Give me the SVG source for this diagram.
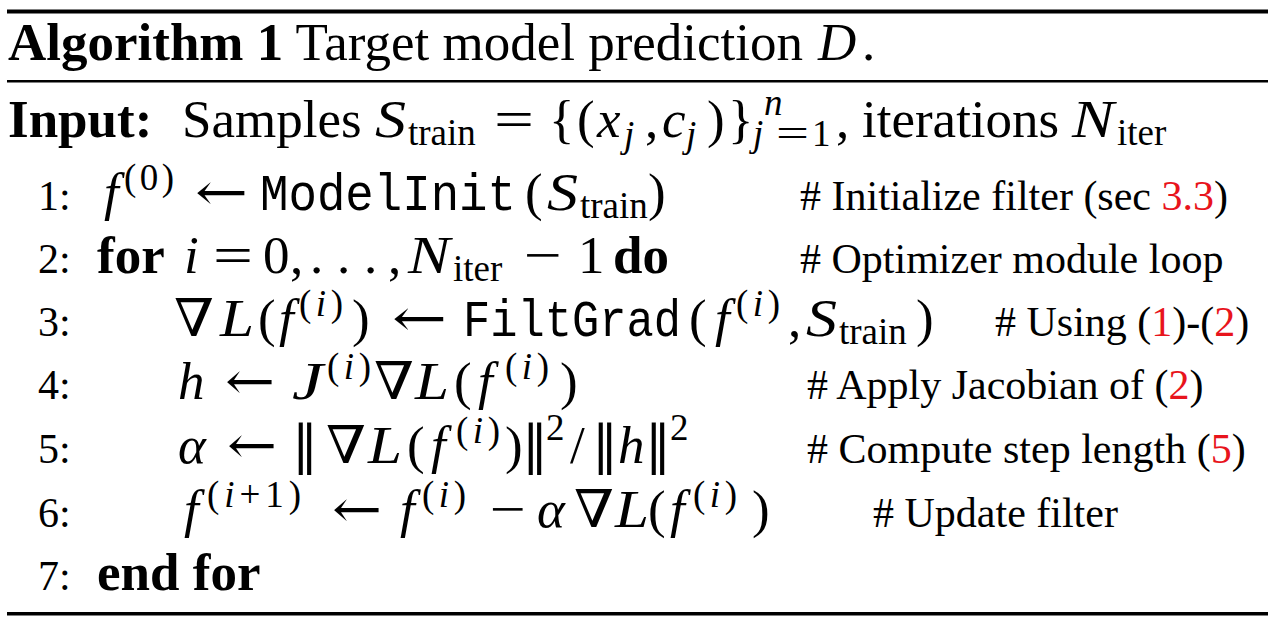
<svg xmlns="http://www.w3.org/2000/svg" width="1277" height="622" viewBox="0 0 1277 622">
<style>
text{font-family:"Liberation Serif","DejaVu Serif",serif;fill:#000;font-size:53px}
.b{font-weight:bold}
.i{font-style:italic}
.sm{font-size:42px}
.sc{font-size:37px}
.tt{font-family:"Liberation Mono","DejaVu Sans Mono",monospace;font-size:52px}
.sy{font-family:"DejaVu Serif","Liberation Serif",serif;font-size:52px}
.red{fill:#e8141c}
.rule{fill:#000}
</style>
<rect width="1277" height="622" fill="#fff"/>
<g id="rules">
<rect class="rule" x="7" y="9.5" width="1261" height="4"/>
<rect class="rule" x="7" y="80" width="1261" height="2.5"/>
<rect class="rule" x="7" y="612" width="1261" height="3.5"/>
</g>
<g id="title">
<text x="8" y="60"><tspan class="b">Algorithm 1</tspan> Target model prediction <tspan class="i" x="818">D</tspan><tspan x="862">.</tspan></text>
</g>
<g id="input">
<text x="8" y="137" class="b">Input:</text>
<text x="182" y="137">Samples</text>
<text x="375" y="137" class="i" textLength="31" lengthAdjust="spacingAndGlyphs">S</text>
<text x="408" y="145" class="sc">train</text>
<text x="494" y="137" textLength="40" lengthAdjust="spacingAndGlyphs">=</text>
<text x="549" y="137">{</text>
<text x="577" y="137">(</text>
<text x="597" y="137" class="i">x</text>
<text x="624" y="147" class="sc i">j</text>
<text x="645" y="137">,</text>
<text x="662" y="137" class="i">c</text>
<text x="686" y="147" class="sc i">j</text>
<text x="707" y="137">)</text>
<text x="728" y="137">}</text>
<text x="764" y="115" class="sc i">n</text>
<text x="753" y="146" class="sc i">j</text>
<text x="776" y="146" class="sc" textLength="33" lengthAdjust="spacingAndGlyphs">=</text>
<text x="812" y="146" class="sc">1</text>
<text x="836" y="137">,</text>
<text x="862" y="137">iterations</text>
<text x="1072" y="137" class="i" textLength="42" lengthAdjust="spacingAndGlyphs">N</text>
<text x="1117" y="145" class="sc">iter</text>
</g>
<g id="line1">
<text x="38" y="210" class="sm">1:</text>
<text x="104" y="210" class="i">f</text>
<text x="124" y="190" class="sc" textLength="50">(0)</text>
<text x="195" y="210" class="sy" textLength="53" lengthAdjust="spacingAndGlyphs">←</text>
<text x="260" y="210" class="tt" textLength="256" lengthAdjust="spacingAndGlyphs">ModelInit</text>
<text x="525" y="210">(</text>
<text x="547" y="210" class="i" textLength="31" lengthAdjust="spacingAndGlyphs">S</text>
<text x="580" y="218" class="sc">train</text>
<text x="648" y="210">)</text>
<text x="800" y="210" class="sm"># Initialize filter (sec <tspan class="red">3.3</tspan>)</text>
</g>
<g id="line2">
<text x="38" y="273" class="sm">2:</text>
<text x="97" y="273" class="b">for</text>
<text x="184" y="273" class="i">i</text>
<text x="213" y="273" textLength="40" lengthAdjust="spacingAndGlyphs">=</text>
<text x="263" y="273">0</text>
<text x="290" y="273">,</text>
<text x="310" y="273">.</text>
<text x="337" y="273">.</text>
<text x="364" y="273">.</text>
<text x="388" y="273">,</text>
<text x="408" y="273" class="i" textLength="42" lengthAdjust="spacingAndGlyphs">N</text>
<text x="453" y="281" class="sc">iter</text>
<text x="524" y="273" textLength="38" lengthAdjust="spacingAndGlyphs">−</text>
<text x="578" y="273">1</text>
<text x="613" y="273" class="b">do</text>
<text x="800" y="273" class="sm"># Optimizer module loop</text>
</g>
<g id="line3">
<text x="38" y="336" class="sm">3:</text>
<text x="174" y="336" class="sy" textLength="40" lengthAdjust="spacingAndGlyphs">∇</text>
<text x="220" y="336" class="i" textLength="34" lengthAdjust="spacingAndGlyphs">L</text>
<text x="258" y="336">(</text>
<text x="279" y="336" class="i">f</text>
<text x="299" y="316" class="sc" textLength="44">(<tspan class="i">i</tspan>)</text>
<text x="352" y="336">)</text>
<text x="392" y="336" class="sy" textLength="55" lengthAdjust="spacingAndGlyphs">←</text>
<text x="463" y="336" class="tt" textLength="218" lengthAdjust="spacingAndGlyphs">FiltGrad</text>
<text x="689" y="336">(</text>
<text x="715" y="336" class="i">f</text>
<text x="736" y="316" class="sc" textLength="44">(<tspan class="i">i</tspan>)</text>
<text x="788" y="336">,</text>
<text x="806" y="336" class="i" textLength="31" lengthAdjust="spacingAndGlyphs">S</text>
<text x="839" y="344" class="sc">train</text>
<text x="916" y="336">)</text>
<text x="995" y="336" class="sm"># Using (<tspan class="red">1</tspan>)-(<tspan class="red">2</tspan>)</text>
</g>
<g id="line4">
<text x="38" y="399" class="sm">4:</text>
<text x="178" y="399" class="i">h</text>
<text x="225" y="399" class="sy" textLength="50" lengthAdjust="spacingAndGlyphs">←</text>
<text x="292" y="399" class="i" textLength="31" lengthAdjust="spacingAndGlyphs">J</text>
<text x="327" y="379" class="sc" textLength="44">(<tspan class="i">i</tspan>)</text>
<text x="374" y="399" class="sy" textLength="40" lengthAdjust="spacingAndGlyphs">∇</text>
<text x="415" y="399" class="i" textLength="34" lengthAdjust="spacingAndGlyphs">L</text>
<text x="454" y="399">(</text>
<text x="478" y="399" class="i">f</text>
<text x="505" y="379" class="sc" textLength="44">(<tspan class="i">i</tspan>)</text>
<text x="560" y="399">)</text>
<text x="807" y="399" class="sm"># Apply Jacobian of (<tspan class="red">2</tspan>)</text>
</g>
<g id="line5">
<text x="38" y="463" class="sm">5:</text>
<text x="178" y="463" class="i">α</text>
<text x="227" y="463" class="sy" textLength="50" lengthAdjust="spacingAndGlyphs">←</text>
<text x="292" y="463" class="sy">‖</text>
<text x="326" y="463" class="sy" textLength="40" lengthAdjust="spacingAndGlyphs">∇</text>
<text x="368" y="463" class="i" textLength="34" lengthAdjust="spacingAndGlyphs">L</text>
<text x="407" y="463">(</text>
<text x="431" y="463" class="i">f</text>
<text x="456" y="443" class="sc" textLength="44">(<tspan class="i">i</tspan>)</text>
<text x="505" y="463">)</text>
<text x="522" y="463" class="sy">‖</text>
<text x="546" y="440" class="sc">2</text>
<text x="570" y="463">/</text>
<text x="592" y="463" class="sy">‖</text>
<text x="618" y="463" class="i">h</text>
<text x="645" y="463" class="sy">‖</text>
<text x="670" y="440" class="sc">2</text>
<text x="807" y="463" class="sm"># Compute step length (<tspan class="red">5</tspan>)</text>
</g>
<g id="line6">
<text x="38" y="527" class="sm">6:</text>
<text x="184" y="527" class="i">f</text>
<text x="207" y="507" class="sc" textLength="94">(<tspan class="i">i</tspan>+1)</text>
<text x="332" y="527" class="sy" textLength="50" lengthAdjust="spacingAndGlyphs">←</text>
<text x="400" y="527" class="i">f</text>
<text x="422" y="507" class="sc" textLength="44">(<tspan class="i">i</tspan>)</text>
<text x="490" y="527" textLength="36" lengthAdjust="spacingAndGlyphs">−</text>
<text x="537" y="527" class="i">α</text>
<text x="574" y="527" class="sy" textLength="40" lengthAdjust="spacingAndGlyphs">∇</text>
<text x="615" y="527" class="i" textLength="34" lengthAdjust="spacingAndGlyphs">L</text>
<text x="648" y="527">(</text>
<text x="670" y="527" class="i">f</text>
<text x="693" y="507" class="sc" textLength="44">(<tspan class="i">i</tspan>)</text>
<text x="752" y="527">)</text>
<text x="873" y="527" class="sm"># Update filter</text>
</g>
<g id="line7">
<text x="38" y="590" class="sm">7:</text>
<text x="97" y="590" class="b">end for</text>
</g>
</svg>
